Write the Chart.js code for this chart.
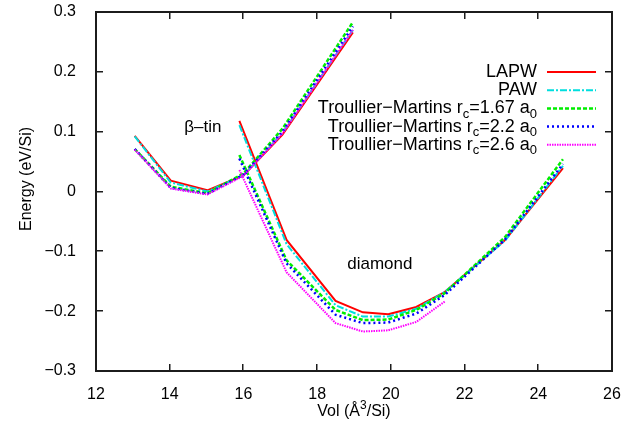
<!DOCTYPE html>
<html>
<head>
<meta charset="utf-8">
<script src="https://cdn.jsdelivr.net/npm/chart.js@4"></script>
<style>
  html, body { margin: 0; padding: 0; background: #fff; }
  #wrap { width: 639px; height: 428px; }
</style>
</head>
<body>
<div id="wrap"><canvas id="eos-chart" width="639" height="428"></canvas></div>
<script>
// volumes (A^3/Si)
const betaVol = [13.05, 14.03, 15.02, 16.0, 17.06, 18.97];
const diamondVol = [15.89, 17.17, 18.5, 19.24, 19.93, 20.69, 21.46, 23.1, 24.67];

// energies (eV/Si), beta-tin branch
const lapwBeta = [0.093, 0.018, 0.002, 0.027, 0.095, 0.266];
const pawBeta = [0.092, 0.015, 0.0, 0.027, 0.098, 0.27];
const tm167Beta = [0.071, 0.008, -0.003, 0.03, 0.105, 0.283];
const tm22Beta = [0.071, 0.006, -0.004, 0.028, 0.1, 0.276];
const tm26Beta = [0.07, 0.005, -0.005, 0.026, 0.097, 0.27];

// energies (eV/Si), diamond branch
const lapwDia = [0.118, -0.081, -0.183, -0.202, -0.205, -0.193, -0.168, -0.081, 0.039];
const pawDia = [0.111, -0.088, -0.19, -0.209, -0.209, -0.196, -0.168, -0.082, 0.043];
const tm167Dia = [0.061, -0.115, -0.198, -0.215, -0.214, -0.198, -0.17, -0.076, 0.054];
const tm22Dia = [0.055, -0.12, -0.206, -0.22, -0.219, -0.204, -0.173, -0.08, 0.046];
const tm26Dia = [0.036, -0.135, -0.22, -0.234, -0.232, -0.218, -0.184];

const seriesNames = [
    "LAPW",
    "PAW",
    "Troullier\u2212Martins r_c=1.67 a_0",
    "Troullier\u2212Martins r_c=2.2 a_0",
    "Troullier\u2212Martins r_c=2.6 a_0",
];
const xTicks = [12, 14, 16, 18, 20, 22, 24, 26];
const yTicks = [-0.3, -0.2, -0.1, 0, 0.1, 0.2, 0.3];

const styles = [
    { color: "#ff0000", dash: [], width: 2 },
    { color: "#00dede", dash: [7, 2, 2, 2], width: 2 },
    { color: "#00ee00", dash: [4, 2], width: 2.5 },
    { color: "#0000ff", dash: [2, 3], width: 2.5 },
    { color: "#ff00ff", dash: [1.5, 1], width: 2 },
];

const betaSets = [lapwBeta, pawBeta, tm167Beta, tm22Beta, tm26Beta];
const diaSets = [lapwDia, pawDia, tm167Dia, tm22Dia, tm26Dia];

function toPoints(xs, ys) {
    return ys.map((y, i) => ({ x: xs[i], y: y }));
}

const datasets = [];
seriesNames.forEach((name, i) => {
    const st = styles[i];
    [betaSets[i], diaSets[i]].forEach((ys, k) => {
        datasets.push({
            label: name,
            data: toPoints(k == 0 ? betaVol : diamondVol, ys),
            showLine: true,
            borderColor: st.color,
            borderWidth: st.width,
            borderDash: st.dash,
            pointRadius: 0,
            fill: false,
            tension: 0,
            order: 4 - i,
        });
    });
});

const FONT = "Liberation Sans, Arial, Helvetica, sans-serif";

// text with _x subscripts / ^x superscripts
function richParts(str) {
    const parts = [];
    const re = /([_^])(\w)/g;
    let last = 0, m;
    while ((m = re.exec(str)) !== null) {
        if (m.index > last) parts.push({ t: str.slice(last, m.index), s: 0 });
        parts.push({ t: m[2], s: m[1] == "_" ? 1 : -1 });
        last = re.lastIndex;
    }
    if (last < str.length) parts.push({ t: str.slice(last), s: 0 });
    return parts;
}

function drawRich(ctx, str, x, y, size, align) {
    const parts = richParts(str);
    const small = Math.round(size * 0.72);
    let total = 0;
    parts.forEach((p) => {
        ctx.font = (p.s ? small : size) + "px " + FONT;
        p.w = ctx.measureText(p.t).width;
        total += p.w;
    });
    let cx = align == "right" ? x - total : align == "center" ? x - total / 2 : x;
    ctx.textAlign = "left";
    ctx.textBaseline = "middle";
    parts.forEach((p) => {
        ctx.font = (p.s ? small : size) + "px " + FONT;
        const dy = p.s == 1 ? size * 0.32 : p.s == -1 ? -size * 0.38 : 0;
        ctx.fillText(p.t, cx, y + dy);
        cx += p.w;
    });
}

const decorations = {
    id: "decorations",
    afterDraw(chart) {
        const ctx = chart.ctx;
        const xs = chart.scales.x;
        const ys = chart.scales.y;
        const L = Math.round(xs.getPixelForValue(12));
        const R = Math.round(xs.getPixelForValue(26));
        const T = Math.round(ys.getPixelForValue(0.3));
        const B = Math.round(ys.getPixelForValue(-0.3));
        ctx.save();

        // frame + inward ticks on all four sides
        ctx.fillStyle = "#1c1c1c";
        ctx.fillRect(L - 1, T - 1, R - L + 2, 2);
        ctx.fillRect(L - 1, B - 1, R - L + 2, 2);
        ctx.fillRect(L - 1, T - 1, 2, B - T + 2);
        ctx.fillRect(R - 1, T - 1, 2, B - T + 2);
        xTicks.slice(1, -1).forEach((v) => {
            const px = Math.round(xs.getPixelForValue(v));
            ctx.fillRect(px - 1, B - 7, 1.5, 7);
            ctx.fillRect(px - 1, T, 1.5, 7);
        });
        yTicks.slice(1, -1).forEach((v) => {
            const py = Math.round(ys.getPixelForValue(v));
            ctx.fillRect(L, py - 1, 7, 1.5);
            ctx.fillRect(R - 7, py - 1, 7, 1.5);
        });

        ctx.fillStyle = "#000";
        // axis titles
        drawRich(ctx, "Vol (\u00c5^3/Si)", (L + R) / 2, 412, 16, "center");
        ctx.save();
        ctx.translate(27, 179);
        ctx.rotate(-Math.PI / 2);
        drawRich(ctx, "Energy (eV/Si)", 0, 0, 16, "center");
        ctx.restore();

        // phase labels
        drawRich(ctx, "\u03b2\u2013tin", xs.getPixelForValue(14.9), ys.getPixelForValue(0.107), 17, "center");
        drawRich(ctx, "diamond", xs.getPixelForValue(19.7), ys.getPixelForValue(-0.122), 17, "center");

        // legend
        seriesNames.forEach((name, i) => {
            const y = 72 + i * 18.2;
            ctx.fillStyle = "#000";
            drawRich(ctx, name, 537, y, 18, "right");
            const st = styles[i];
            ctx.beginPath();
            ctx.strokeStyle = st.color;
            ctx.lineWidth = st.width;
            ctx.setLineDash(st.dash);
            ctx.moveTo(547, y);
            ctx.lineTo(596, y);
            ctx.stroke();
            ctx.setLineDash([]);
        });
        ctx.restore();
    },
};

const ctx = document.getElementById("eos-chart").getContext("2d");
const eosChart = new Chart(ctx, {
    type: "scatter",
    data: { datasets },
    options: {
        responsive: false,
        animation: false,
        layout: { padding: { left: 0, top: 12, right: 27, bottom: 0 } },
        scales: {
            x: {
                type: "linear",
                min: 12,
                max: 26,
                afterFit: (scale) => {
                    scale.height = 57;
                    scale.paddingLeft = 0;
                    scale.paddingRight = 0;
                },
                afterBuildTicks: (scale) => { scale.ticks = xTicks.map((v) => ({ value: v })); },
                grid: { display: false },
                border: { display: false },
                ticks: {
                    padding: 6,
                    color: "#000",
                    font: { family: FONT, size: 16 },
                    maxRotation: 0,
                    callback: (v) => String(v),
                },
            },
            y: {
                type: "linear",
                min: -0.3,
                max: 0.3,
                afterFit: (scale) => {
                    scale.width = 96;
                    scale.paddingTop = 0;
                    scale.paddingBottom = 0;
                },
                afterBuildTicks: (scale) => { scale.ticks = yTicks.map((v) => ({ value: v })); },
                grid: { display: false },
                border: { display: false },
                ticks: {
                    padding: 12,
                    color: "#000",
                    font: { family: FONT, size: 16 },
                    callback: (v) => {
                        const r = Math.round(v * 10) / 10;
                        if (r === 0) return "0";
                        return r < 0 ? "\u2212" + Math.abs(r) : String(r);
                    },
                },
            },
        },
        plugins: {
            legend: { display: false },
            tooltip: { enabled: false },
        },
    },
    plugins: [decorations],
});
</script>
</body>
</html>
